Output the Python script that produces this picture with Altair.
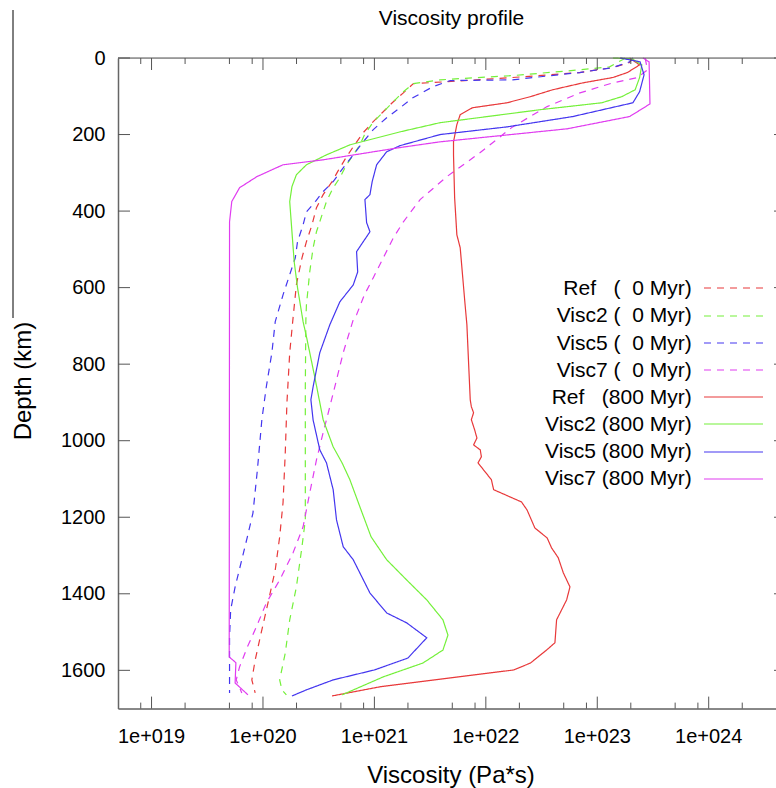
import altair as alt
import numpy as np
import pandas as pd

FONT = "Liberation Sans"

# ---- data: depth (km) and log10 viscosity (Pa*s) ----
ref0_depth = [0, 12, 25, 38, 51, 62, 67, 91, 117, 143, 169, 195, 232, 258, 297, 323, 357, 391,
              436, 480, 522, 592, 679, 770, 901, 1032, 1162, 1251, 1338, 1424, 1494, 1573, 1625, 1659]
ref0_logv = [23.32, 23.29, 23.14, 22.84, 22.24, 21.65, 21.35, 21.26, 21.16, 21.07, 20.98, 20.90,
             20.81, 20.75, 20.67, 20.62, 20.54, 20.48, 20.44, 20.39, 20.35, 20.30, 20.27, 20.24,
             20.215, 20.20, 20.18, 20.15, 20.11, 20.045, 19.99, 19.93, 19.90, 19.93]

visc2_0_depth = [0, 4, 23, 31, 46, 57, 67, 88, 114, 141, 167, 201, 227, 253, 279, 313, 339, 375,
                 410, 454, 496, 558, 645, 684, 859, 1032, 1207, 1277, 1382, 1468, 1555, 1625, 1651, 1664]
visc2_0_logv = [23.25, 23.23, 23.11, 22.84, 22.24, 21.59, 21.35, 21.26, 21.17, 21.08, 20.99, 20.91,
                20.87, 20.81, 20.75, 20.69, 20.63, 20.57, 20.53, 20.48, 20.45, 20.42, 20.39, 20.385,
                20.38, 20.38, 20.38, 20.35, 20.30, 20.24, 20.20, 20.15, 20.17, 20.21]

visc5_0_depth = [0, 10, 25, 38, 57, 59, 75, 104, 130, 156, 187, 219, 253, 287, 323, 349, 375, 402,
                 436, 480, 522, 566, 619, 689, 770, 859, 945, 1076, 1189, 1251, 1311, 1382, 1442,
                 1513, 1659]
visc5_0_logv = [23.32, 23.29, 23.14, 22.84, 22.24, 21.68, 21.525, 21.345, 21.23, 21.11, 20.99,
                20.90, 20.81, 20.72, 20.63, 20.54, 20.47, 20.39, 20.36, 20.31, 20.29, 20.24, 20.18,
                20.11, 20.08, 20.03, 19.99, 19.95, 19.91, 19.86, 19.81, 19.75, 19.71, 19.70, 19.70]

visc7_0_depth = [0, 31, 51, 65, 91, 127, 180, 247, 310, 370, 428, 470, 522, 574, 619, 671, 684,
                 770, 841, 911, 979, 1050, 1136, 1225, 1293, 1364, 1424, 1487, 1539, 1591, 1625, 1659]
visc7_0_logv = [23.43, 23.45, 23.36, 23.14, 22.845, 22.55, 22.24, 21.95, 21.65, 21.41, 21.26,
                21.17, 21.08, 20.99, 20.91, 20.84, 20.81, 20.72, 20.66, 20.60, 20.54, 20.48, 20.42,
                20.36, 20.27, 20.15, 20.03, 19.94, 19.86, 19.79, 19.76, 19.81]

ref800_depth = [0, 18, 38, 51, 65, 83, 101, 117, 130, 148, 174, 219, 253, 365, 462, 496, 632, 697,
                893, 911, 927, 945, 972, 993, 1011, 1024, 1042, 1058, 1102, 1128, 1160, 1181, 1228,
                1254, 1280, 1306, 1345, 1382, 1416, 1468, 1528, 1547, 1581, 1599, 1643, 1667]
ref800_logv = [23.29, 23.38, 23.27, 23.14, 22.87, 22.60, 22.40, 22.19, 21.88, 21.77, 21.74, 21.71,
               21.71, 21.72, 21.74, 21.77, 21.81, 21.83, 21.86, 21.87, 21.89, 21.87, 21.90, 21.92,
               21.89, 21.95, 21.96, 21.93, 22.05, 22.07, 22.32, 22.37, 22.44, 22.55, 22.59, 22.65,
               22.695, 22.755, 22.725, 22.635, 22.62, 22.545, 22.40, 22.25, 21.05, 20.62]

visc2_800_depth = [0, 2, 18, 51, 83, 101, 117, 135, 169, 193, 227, 253, 279, 305, 336, 375, 454,
                   532, 600, 689, 728, 841, 945, 1016, 1058, 1102, 1173, 1251, 1311, 1364, 1416,
                   1468, 1508, 1547, 1581, 1617, 1664]
visc2_800_logv = [23.14, 23.31, 23.40, 23.38, 23.34, 23.22, 23.04, 22.49, 21.59, 21.23, 20.78,
                  20.57, 20.39, 20.30, 20.26, 20.24, 20.26, 20.28, 20.31, 20.36, 20.39, 20.47, 20.54,
                  20.63, 20.71, 20.78, 20.87, 20.97, 21.11, 21.29, 21.47, 21.615, 21.66, 21.615,
                  21.435, 21.08, 20.71]

visc5_800_depth = [0, 10, 44, 88, 117, 153, 180, 200, 229, 245, 279, 323, 357, 370, 430, 454, 506,
                   559, 593, 637, 697, 770, 859, 893, 946, 1024, 1058, 1128, 1207, 1277, 1311, 1398,
                   1450, 1476, 1515, 1568, 1599, 1625, 1651, 1667]
visc5_800_logv = [23.205, 23.384, 23.42, 23.38, 23.32, 22.78, 22.19, 21.59, 21.23, 21.11, 21.02,
                  20.98, 20.96, 20.915, 20.93, 20.96, 20.84, 20.85, 20.81, 20.69, 20.60, 20.51,
                  20.45, 20.43, 20.45, 20.51, 20.57, 20.63, 20.66, 20.72, 20.81, 20.96, 21.11,
                  21.29, 21.47, 21.30, 21.00, 20.63, 20.39, 20.26]

visc7_800_depth = [0, 10, 120, 135, 153, 185, 219, 234, 266, 279, 310, 339, 375, 428, 1565, 1580,
                   1633, 1664]
visc7_800_logv = [23.41, 23.465, 23.473, 23.39, 23.29, 22.73, 21.59, 21.23, 20.54, 20.18, 19.945,
                  19.79, 19.72, 19.70, 19.697, 19.757, 19.75, 19.865]

series_keys = ["ref0", "visc2_0", "visc5_0", "visc7_0", "ref800", "visc2_800", "visc5_800", "visc7_800"]
series_labels = ["Ref   (  0 Myr)", "Visc2 (  0 Myr)", "Visc5 (  0 Myr)", "Visc7 (  0 Myr)",
                 "Ref   (800 Myr)", "Visc2 (800 Myr)", "Visc5 (800 Myr)", "Visc7 (800 Myr)"]
series_colors = ["#e8393a", "#74f03a", "#4436ef", "#e03cf0",
                 "#e8393a", "#74f03a", "#4436ef", "#e03cf0"]
series_dash = [[7, 6], [7, 6], [7, 6], [7, 6], [1, 0], [1, 0], [1, 0], [1, 0]]
legend_widths = [1.2, 1.2, 1.2, 1.2, 1.8, 1.8, 1.8, 1.8]

curves = {
    "ref0": (ref0_depth, ref0_logv),
    "visc2_0": (visc2_0_depth, visc2_0_logv),
    "visc5_0": (visc5_0_depth, visc5_0_logv),
    "visc7_0": (visc7_0_depth, visc7_0_logv),
    "ref800": (ref800_depth, ref800_logv),
    "visc2_800": (visc2_800_depth, visc2_800_logv),
    "visc5_800": (visc5_800_depth, visc5_800_logv),
    "visc7_800": (visc7_800_depth, visc7_800_logv),
}

x_major = [1e19, 1e20, 1e21, 1e22, 1e23, 1e24]
x_major_labels = ["1e+019", "1e+020", "1e+021", "1e+022", "1e+023", "1e+024"]
x_minor = [m * 10.0 ** e for e in range(18, 25) for m in (2, 5, 8)]
y_major = [0, 200, 400, 600, 800, 1000, 1200, 1400, 1600]

X_MIN, X_MAX = 5e18, 10 ** 24.604
x_minor = [v for v in x_minor if X_MIN < v < X_MAX]

# ---- layout constants (pixels, relative to the plot area) ----
W, H = 658, 650.6
LEG_TOP, LEG_STEP = 231.3, 27.17

# ---- tables ----
rows = []
for key in series_keys:
    d, lv = curves[key]
    for i, (dd, vv) in enumerate(zip(d, lv)):
        rows.append({"series": key, "depth": dd, "visc": 10.0 ** vv, "idx": i})
df = pd.DataFrame(rows)

legend_df = pd.DataFrame({
    "series": series_keys,
    "label": [s.replace(" ", "\u00a0") for s in series_labels],
})
legend_df["ly"] = LEG_TOP + LEG_STEP * np.arange(len(legend_df))
legend_df["lly"] = np.round(legend_df["ly"] - 0.8)

xs = alt.Scale(type="log", domain=[X_MIN, X_MAX], nice=False)
ys = alt.Scale(domain=[0, 1700], reverse=True, nice=False)
color_scale = alt.Scale(domain=series_keys, range=series_colors)
dash_scale = alt.Scale(domain=series_keys, range=series_dash)
lw_scale = alt.Scale(domain=series_keys, range=legend_widths)

AX_COLOR = "#666666"
TICK_COLOR = "#555555"

x_axis = alt.Axis(
    values=x_major, labels=False, ticks=False, tickSize=0, grid=False,
    domainColor=AX_COLOR, domainWidth=1.5, title=None,
)
y_axis = alt.Axis(
    values=y_major, format="d", ticks=False, tickSize=0, grid=False, labelPadding=13,
    labelFont=FONT, labelFontSize=20, labelColor="black", labelFlush=False, labelOverlap=False,
    domainColor=AX_COLOR, domainWidth=1.5,
    title="Depth (km)", titleFont=FONT, titleFontSize=24, titleFontWeight="normal",
    titleColor="black", titleX=-88, titleY=322.5, titleAngle=270, titleBaseline="alphabetic",
    titleAlign="center",
)

lines = alt.Chart(df).mark_line(strokeWidth=1.2).encode(
    x=alt.X("visc:Q", scale=xs, axis=x_axis),
    y=alt.Y("depth:Q", scale=ys, axis=y_axis),
    color=alt.Color("series:N", scale=color_scale, legend=None),
    strokeDash=alt.StrokeDash("series:N", scale=dash_scale, legend=None),
    order=alt.Order("idx:Q"),
)

xmaj_df = pd.DataFrame({"visc": x_major, "label": x_major_labels})
xmin_df = pd.DataFrame({"visc": x_minor})
ymaj_df = pd.DataFrame({"depth": y_major})

def xticks(data, y0, y1):
    return alt.Chart(data).mark_rule(color=TICK_COLOR, strokeWidth=1).encode(
        x=alt.X("visc:Q", scale=xs, axis=None), y=alt.value(y0), y2=alt.value(y1))

def yticks(x0, x1):
    return alt.Chart(ymaj_df).mark_rule(color=TICK_COLOR, strokeWidth=1).encode(
        y=alt.Y("depth:Q", scale=ys, axis=None), x=alt.value(x0), x2=alt.value(x1))

tick_layers = [
    xticks(xmaj_df, H, H - 12), xticks(xmin_df, H, H - 6),
    xticks(xmaj_df, 0, 12), xticks(xmin_df, 0, 6),
    yticks(0, 12), yticks(W - 2, W),
]

x_labels = alt.Chart(xmaj_df).mark_text(
    baseline="alphabetic", align="center", font=FONT, fontSize=20, color="black").encode(
    x=alt.X("visc:Q", scale=xs, axis=None), y=alt.value(H + 34.1), text="label:N")

x_title = alt.Chart(xmaj_df.head(1)).mark_text(
    text="Viscosity (Pa*s)", baseline="alphabetic", align="center", font=FONT, fontSize=24,
    color="black").encode(x=alt.value(333), y=alt.value(H + 74))

plot_title = alt.Chart(xmaj_df.head(1)).mark_text(
    text="Viscosity profile", baseline="alphabetic", align="center", font=FONT, fontSize=21,
    color="black").encode(x=alt.value(333.5), y=alt.value(-33.3))

top_border = alt.Chart(xmaj_df.head(1)).mark_rule(color=TICK_COLOR, strokeWidth=1).encode(
    x=alt.value(0), x2=alt.value(W), y=alt.value(0))
side_line = alt.Chart(xmaj_df.head(1)).mark_rule(color="black", strokeWidth=1).encode(
    x=alt.value(-105), y=alt.value(-48), y2=alt.value(260))

legend_text = alt.Chart(legend_df).mark_text(
    align="right", baseline="middle", font=FONT, fontSize=21, color="black").encode(
    x=alt.value(573.7), y=alt.Y("ly:Q", scale=None, axis=None), text="label:N")
legend_lines = alt.Chart(legend_df).mark_rule().encode(
    x=alt.value(586), x2=alt.value(645),
    y=alt.Y("lly:Q", scale=None, axis=None),
    color=alt.Color("series:N", scale=color_scale, legend=None),
    strokeDash=alt.StrokeDash("series:N", scale=dash_scale, legend=None),
    strokeWidth=alt.StrokeWidth("series:N", scale=lw_scale, legend=None),
)

chart = alt.layer(
    lines, *tick_layers, top_border, side_line, x_labels, x_title, plot_title,
    legend_text, legend_lines
).resolve_axis(x="independent", y="independent").properties(
    width=W, height=H,
    autosize=alt.AutoSizeParams(type="none"),
    padding={"left": 118, "top": 58, "right": 0, "bottom": 79.4},
).configure_view(strokeWidth=0).configure(background="white")

chart.save("out.html", embed_options={"renderer": "svg", "actions": False})
